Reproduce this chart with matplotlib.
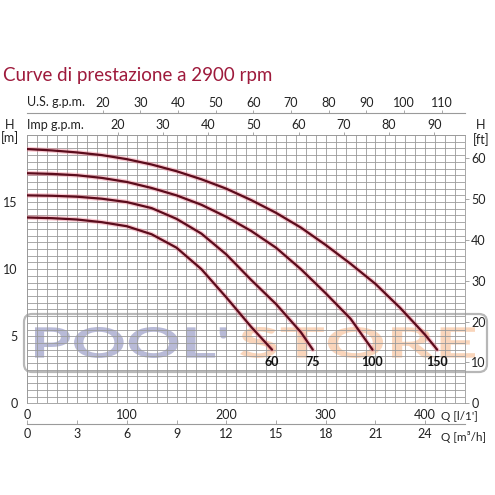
import numpy as np
import matplotlib
matplotlib.use("Agg")
import matplotlib.pyplot as plt
from matplotlib.textpath import TextPath
from matplotlib.patches import PathPatch, FancyBboxPatch
from matplotlib.font_manager import FontProperties
from matplotlib.transforms import Affine2D

plt.rcParams['font.family'] = ['Lato', 'DejaVu Sans']

# ---- data (Q in l/min, H in m) ----
q150 = [0, 25, 50, 75, 100, 125, 150, 175, 200, 225, 250, 275, 300, 325, 350, 375, 400, 412]
h150 = [18.95, 18.85, 18.7, 18.5, 18.2, 17.8, 17.3, 16.7, 16.0, 15.15, 14.2, 13.1, 11.8, 10.4, 8.9, 7.1, 5.1, 4.0]
q100 = [0, 25, 50, 75, 100, 125, 150, 175, 200, 225, 250, 275, 300, 325, 347]
h100 = [17.15, 17.1, 17.0, 16.8, 16.5, 16.05, 15.5, 14.8, 13.9, 12.85, 11.6, 10.0, 8.2, 6.3, 4.0]
q75 = [0, 25, 50, 75, 100, 125, 150, 175, 200, 225, 250, 275, 287]
h75 = [15.5, 15.47, 15.4, 15.25, 15.0, 14.55, 13.75, 12.65, 11.1, 9.2, 7.4, 5.3, 4.0]
q60 = [0, 25, 50, 75, 100, 125, 150, 175, 200, 225, 246]
h60 = [13.85, 13.8, 13.7, 13.5, 13.2, 12.6, 11.6, 10.0, 7.9, 5.7, 4.0]
curve_labels = ['60', '75', '100', '150']

lmin_ticks = [0, 100, 200, 300, 400]
m3h_ticks = [0, 3, 6, 9, 12, 15, 18, 21, 24]
usgpm_ticks = [20, 30, 40, 50, 60, 70, 80, 90, 100, 110]
impgpm_ticks = [20, 30, 40, 50, 60, 70, 80, 90]
m_ticks = [0, 5, 10, 15]
ft_ticks = [0, 10, 20, 30, 40, 50, 60]
title = "Curve di prestazione a 2900 rpm"

W = H = 495
fig = plt.figure(figsize=(4.95, 4.95), dpi=100)

# watermark layer (pixel coordinates)
wm = fig.add_axes([0, 0, 1, 1], zorder=0)
wm.set_xlim(0, W); wm.set_ylim(0, H); wm.axis('off')

L, R, T, B = 27.3, 465, 135, 403.3
ax = fig.add_axes([L / W, 1 - B / H, (R - L) / W, (B - T) / H], zorder=1)
ax.patch.set_alpha(0)
ax.set_xlim(0, 440)
ax.set_ylim(0, 20)

gc = '#9a9a9a'
tc = '#222222'
ax.set_xticks(np.arange(0, 441, 10), minor=True)
ax.set_yticks(np.arange(0, 20.01, 0.5), minor=True)
ax.set_xticks(lmin_ticks)
ax.set_yticks(m_ticks)
ax.grid(which='both', color=gc, lw=0.6)
for s in ax.spines.values():
    s.set_color(gc); s.set_linewidth(0.6)
ax.tick_params(which='both', length=0, labelsize=9, colors=tc)
ax.tick_params(axis='x', pad=4)
ax.tick_params(axis='y', pad=7)

curves = [(q60, h60), (q75, h75), (q100, h100), (q150, h150)]
for (q, h), lab in zip(curves, curve_labels):
    ax.plot(q, h, color='#f27a8c', lw=3.4, alpha=0.4, solid_capstyle='round', zorder=3)
    ax.plot(q, h, color='#5c0c1c', lw=1.6, solid_capstyle='round', zorder=4)
    ax.text(q[-1], 3.1, lab, ha='center', va='center', fontsize=9, fontweight='bold',
            color='#111111', zorder=5)

m2ft = 3.28084
# right ft axis
sec = ax.secondary_yaxis('right', functions=(lambda m: m * m2ft, lambda f: f / m2ft))
sec.set_yticks(ft_ticks)
sec.spines['right'].set_visible(False)
sec.tick_params(length=3, width=0.6, color=gc, pad=1.5, labelsize=9, labelcolor=tc)

# top Imp gpm (at grid top)
imp = ax.secondary_xaxis('top', functions=(lambda q: q / 4.54609, lambda g: g * 4.54609))
imp.set_xticks(impgpm_ticks)
imp.spines['top'].set_visible(False)
imp.tick_params(length=2.5, width=0.6, color=gc, pad=0.5, labelsize=9, labelcolor=tc)

# top US gpm (separate line)
us = ax.secondary_xaxis((B - 112.7) / (B - T), functions=(lambda q: q / 3.78541, lambda g: g * 3.78541))
us.set_xticks(usgpm_ticks)
us.spines['top'].set_color(gc); us.spines['top'].set_linewidth(0.8)
us.tick_params(length=2.5, width=0.6, color=gc, pad=0.5, labelsize=9, labelcolor=tc)

# bottom m3/h
m3 = ax.secondary_xaxis(-(424 - B) / (B - T), functions=(lambda q: q / 16.6667, lambda v: v * 16.6667))
m3.set_xticks(m3h_ticks)
m3.spines['bottom'].set_color(gc); m3.spines['bottom'].set_linewidth(0.8)
m3.tick_params(direction='in', length=3, width=0.6, color=gc, pad=3, labelsize=9, labelcolor=tc)

def ft(x, y, s, **kw):
    fig.text(x / W, 1 - y / H, s, **kw)

ft(3, 76, title, fontsize=13.5, color='#9e1a3c', va='center', ha='left')
ft(27, 102, "U.S. g.p.m.", fontsize=9, color=tc, va='center', ha='left')
ft(27, 125, "Imp g.p.m.", fontsize=9, color=tc, va='center', ha='left')
ft(10, 125, "H", fontsize=9, color=tc, va='center', ha='center')
ft(10, 138, "[m]", fontsize=9, color=tc, va='center', ha='center')
ft(481, 125, "H", fontsize=9, color=tc, va='center', ha='center')
ft(481, 140, "[ft]", fontsize=9, color=tc, va='center', ha='center')
ft(441, 416, "Q [l/1']", fontsize=8.5, color=tc, va='center', ha='left')
ft(441, 437, "Q [m³/h]", fontsize=8.5, color=tc, va='center', ha='left')

# watermark
box = FancyBboxPatch((24, H - 372), 463, 58, boxstyle="round,pad=0,rounding_size=8",
                     fc='none', ec='#a5a5a5', lw=1.6, alpha=0.8)
wm.add_patch(box)
fp = FontProperties(family='Lato', weight='bold')
def stretched(txt, x0, x1, y0, y1, color, alpha):
    tp = TextPath((0, 0), txt, size=10, prop=fp)
    bb = tp.get_extents()
    tr = Affine2D().translate(-bb.x0, -bb.y0).scale((x1 - x0) / bb.width, (y1 - y0) / bb.height).translate(x0, y0)
    wm.add_patch(PathPatch(tr.transform_path(tp), fc=color, ec='none', alpha=alpha))
stretched("POOL'", 35, 227, H - 358, H - 327, '#8a8dbd', 0.6)
stretched("STORE", 240, 475, H - 358, H - 327, '#f5ad78', 0.5)

fig.savefig("out.png", dpi=100)
